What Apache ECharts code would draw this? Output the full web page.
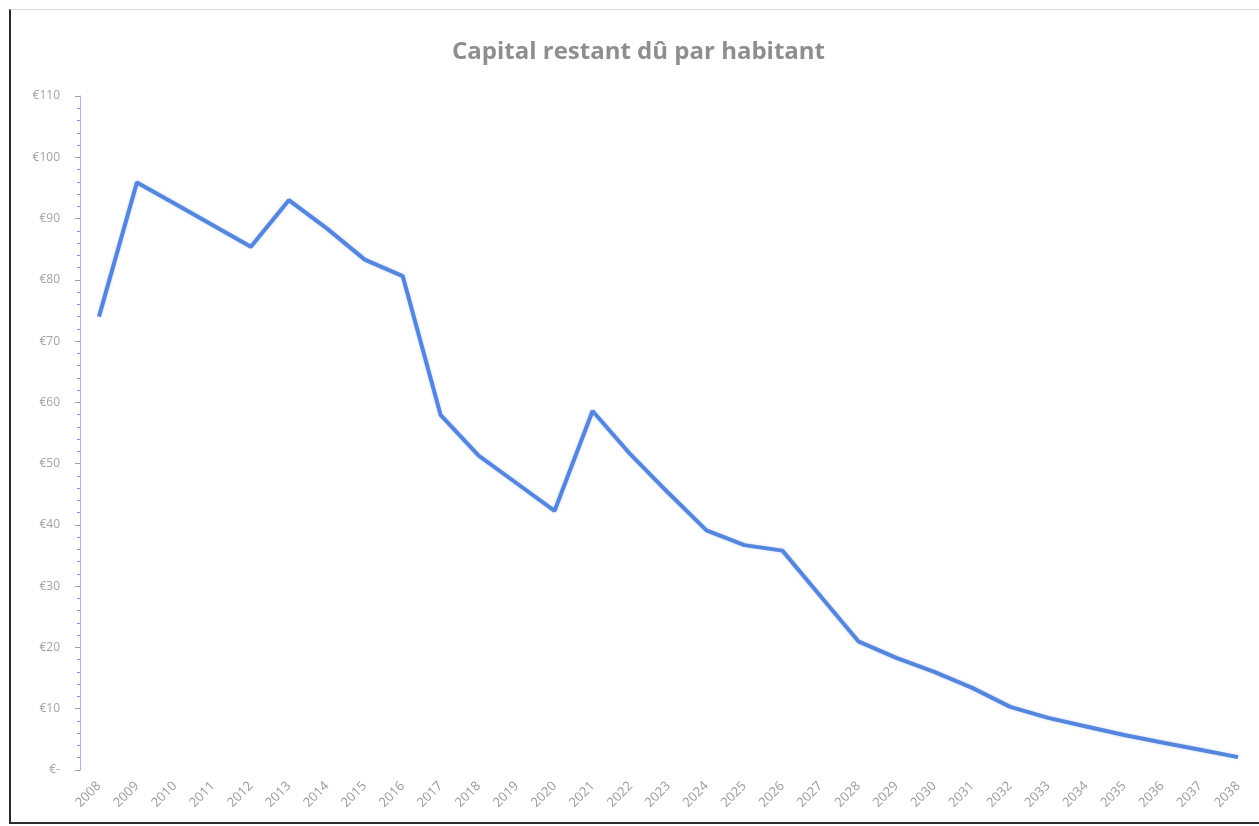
<!DOCTYPE html>
<html>
<head>
<meta charset="utf-8">
<script src="https://cdn.jsdelivr.net/npm/echarts@6/dist/echarts.min.js"></script>
<style>
	html, body { margin: 0; padding: 0; background: #fff; }
	#main { width: 1259px; height: 826px; }
	.frame {
		position: absolute; left: 9px; top: 9px; width: 1260px; height: 812px;
		border-left: 2px solid #2a2a2a; border-bottom: 2px solid #2a2a2a; border-top: 1px solid #d8d8d8;
		pointer-events: none;
	}
</style>
</head>
<body>
<div id="main"></div>
<div class="frame"></div>
<script>
// années
var years = ['2008','2009','2010','2011','2012','2013','2014','2015','2016','2017',
	'2018','2019','2020','2021','2022','2023','2024','2025','2026','2027',
	'2028','2029','2030','2031','2032','2033','2034','2035','2036','2037','2038'];
// capital restant dû par habitant (€)
var capital = [74, 95.9, 92.4, 88.9, 85.4, 93.0, 88.4, 83.3, 80.6, 57.9,
	51.3, 46.8, 42.3, 58.6, 51.5, 45.2, 39.1, 36.7, 35.8, 28.4,
	21.0, 18.3, 16.0, 13.4, 10.3, 8.5, 7.1, 5.7, 4.5, 3.3, 2.1];

var myChart = echarts.init(document.getElementById('main'));
var option = {
	animation: false,
	title: {
		text: 'Capital restant dû par habitant',
		left: 447,
		top: 35,
		textStyle: { fontFamily: 'Open Sans', fontWeight: 'bold', fontSize: 24, color: '#8e8e8e' }
	},
	grid: { left: 80, right: 2, top: 96, bottom: 56 },
	xAxis: {
		type: 'category',
		data: years,
		boundaryGap: true,
		axisLine: { show: false },
		axisTick: { show: false },
		axisLabel: { rotate: 45, margin: 14, fontSize: 13, color: '#9a9a9a', fontFamily: 'Open Sans' }
	},
	yAxis: {
		type: 'value',
		min: 0, max: 110, interval: 10,
		axisLine: { show: true, lineStyle: { color: '#a9b0e6', width: 1 } },
		axisTick: { show: true, length: 5, lineStyle: { color: '#a0a0a0' } },
		minorTick: { show: true, splitNumber: 5, length: 3, lineStyle: { color: '#7f8fe0' } },
		splitLine: { show: false },
		axisLabel: {
			margin: 20, fontSize: 12, color: '#a3a3a3', fontFamily: 'Open Sans',
			formatter: function (v) { return v === 0 ? '€-' : '€' + v; }
		}
	},
	series: [{
		type: 'line',
		data: capital,
		symbol: 'none',
		lineStyle: { color: '#5586de', width: 4, shadowColor: 'rgba(85,134,222,0.35)', shadowBlur: 3 }
	}]
};
myChart.setOption(option);
</script>
</body>
</html>
